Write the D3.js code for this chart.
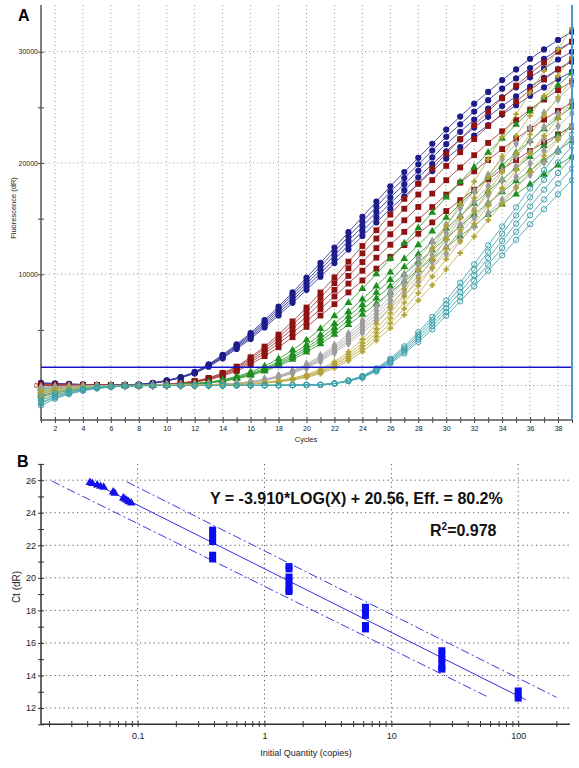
<!DOCTYPE html>
<html><head><meta charset="utf-8">
<script src="https://cdn.jsdelivr.net/npm/d3@7"></script>
<style>body{margin:0;background:#fff}svg{display:block}text{font-family:"Liberation Sans",Arial,sans-serif}</style>
</head><body><svg id="c" width="579" height="768"></svg>
<script>
// ---------- Panel A data ----------
const cycles = [1,2,3,4,5,6,7,8,9,10,11,12,13,14,15,16,17,18,19,20,21,22,23,24,25,26,27,28,29,30,31,32,33,34,35,36,37,38,39];
const aYTicks = [0,10000,20000,30000];
const aYMinor = [0,5000,10000,15000,20000,25000,30000];
const aXTicks = [2,4,6,8,10,12,14,16,18,20,22,24,26,28,30,32,34,36,38];
const threshold = 1635;

const navyCurves = [
 [150,120,90,60,40,30,30,70,190,400,680,1080,1690,2440,3290,4180,5220,6300,7430,8600,9780,11000,12220,13440,14660,15890,17010,18140,19270,20400,21430,22470,23410,24350,25190,26040,26790,27540,28200],
 [60,50,40,30,20,20,30,70,190,420,700,1120,1750,2520,3400,4320,5380,6500,7660,8880,10090,11350,12610,13870,15130,16390,17560,18720,19890,21050,22120,23180,24150,25120,26000,26870,27650,28420,29100],
 [100,80,60,40,30,30,40,80,200,430,720,1150,1800,2600,3500,4450,5550,6700,7900,9150,10400,11700,13000,14300,15600,16900,18100,19300,20500,21700,22800,23900,24900,25900,26800,27700,28500,29300,30000],
 [200,160,120,80,50,40,50,90,220,440,740,1190,1850,2680,3610,4580,5720,6900,8140,9420,10710,12050,13390,14730,16070,17410,18640,19880,21120,22350,23480,24620,25650,26680,27600,28530,29360,30180,30900],
 [250,200,150,100,60,50,60,110,240,460,760,1220,1910,2760,3710,4720,5880,7100,8370,9700,11020,12400,13780,15160,16540,17910,19190,20460,21730,23000,24170,25330,26390,27450,28410,29360,30210,31060,31800]
];
const redCurves = [
 [30,20,10,0,0,0,10,20,40,85,170,300,510,850,1280,1910,2640,3440,4340,5270,6290,7310,8370,9440,10500,11560,12620,13640,14660,15680,16660,17600,18530,19420,20270,21080,21850,22570,23250],
 [80,60,50,40,30,30,30,40,60,90,190,330,560,930,1400,2090,2880,3770,4740,5770,6880,8000,9160,10320,11490,12650,13810,14930,16040,17160,18230,19250,20270,21250,22180,23060,23900,24690,25440],
 [50,40,30,20,20,20,20,30,50,100,200,350,600,1000,1500,2250,3100,4050,5100,6200,7400,8600,9850,11100,12350,13600,14850,16050,17250,18450,19600,20700,21800,22850,23850,24800,25700,26550,27350],
 [20,10,10,0,0,10,10,20,50,110,210,370,640,1070,1610,2410,3320,4330,5460,6630,7920,9200,10540,11880,13210,14550,15890,17170,18460,19740,20970,22150,23330,24450,25520,26540,27500,28410,29260],
 [100,80,60,50,40,30,30,40,60,110,230,400,680,1130,1700,2540,3500,4580,5760,7010,8360,9720,11130,12540,13960,15370,16780,18140,19490,20850,22150,23390,24630,25820,26950,28020,29040,30000,30910]
];
const greenCurves = [
 [-900,-600,-380,-220,-110,-50,-10,0,10,35,70,130,230,380,600,900,1280,1760,2330,2990,3740,4580,5460,6380,7350,8360,9370,10380,11400,12410,13420,14390,15360,16280,17200,18080,18960,19800,20590],
 [-500,-320,-200,-110,-50,-20,0,10,20,40,80,140,240,400,640,960,1360,1880,2490,3200,4000,4890,5830,6820,7850,8930,10010,11090,12170,13250,14340,15370,16400,17390,18380,19320,20260,21150,22000],
 [-700,-450,-280,-160,-80,-30,0,10,20,40,80,150,260,430,680,1020,1450,2000,2650,3400,4250,5200,6200,7250,8350,9500,10650,11800,12950,14100,15250,16350,17450,18500,19550,20550,21550,22500,23400],
 [-300,-200,-130,-80,-40,-10,0,10,20,40,90,160,280,460,730,1090,1550,2140,2840,3640,4550,5560,6630,7760,8930,10170,11400,12630,13860,15090,16320,17490,18670,19800,20920,21990,23060,24080,25040],
 [-150,-100,-60,-30,-10,0,10,20,30,50,100,180,310,520,820,1220,1740,2400,3180,4080,5100,6240,7440,8700,10020,11400,12780,14160,15540,16920,18300,19620,20940,22200,23460,24660,25860,27000,28080]
];
const grayCurves = [
 [-600,-400,-250,-150,-80,-30,-10,0,10,20,30,50,70,100,170,290,460,710,1090,1570,2190,2950,3800,4750,5800,6940,8120,9360,10590,11830,13060,14300,15490,16670,17810,18950,20050,21090,22140],
 [-400,-260,-160,-100,-50,-20,0,0,10,20,30,50,70,100,180,300,480,750,1150,1650,2300,3100,4000,5000,6100,7300,8550,9850,11150,12450,13750,15050,16300,17550,18750,19950,21100,22200,23300],
 [-250,-160,-100,-60,-30,-10,0,10,10,20,30,50,70,110,190,320,500,790,1210,1730,2420,3260,4200,5250,6410,7670,8980,10340,11710,13070,14440,15800,17120,18430,19690,20950,22160,23310,24470],
 [-800,-520,-330,-200,-100,-40,-10,0,10,20,30,60,80,110,200,330,530,830,1270,1820,2530,3410,4400,5500,6710,8030,9410,10840,12270,13700,15130,16560,17930,19310,20630,21950,23210,24420,25630],
 [-150,-100,-60,-40,-20,0,0,10,10,20,40,60,80,120,210,350,560,870,1330,1910,2670,3600,4640,5800,7080,8470,9920,11430,12930,14440,15950,17460,18910,20360,21750,23140,24480,25750,27030]
];
const oliveCurves = [
 [-1300,-850,-530,-320,-170,-80,-30,-10,0,20,30,40,50,60,90,140,210,320,480,720,1060,1560,2210,3040,4050,5150,6350,7640,9020,10440,11910,13390,14860,16330,17800,19230,20650,22080,23460],
 [-1000,-650,-400,-240,-130,-60,-20,0,10,20,30,40,50,70,100,150,230,350,520,780,1150,1700,2400,3300,4400,5600,6900,8300,9800,11350,12950,14550,16150,17750,19350,20900,22450,24000,25500],
 [-700,-460,-290,-170,-90,-40,-10,0,10,20,30,40,50,80,110,160,250,380,560,840,1240,1840,2590,3560,4750,6050,7450,8960,10580,12260,13990,15710,17440,19170,20900,22570,24250,25920,27540],
 [-1100,-720,-450,-270,-140,-60,-20,0,10,20,30,50,60,80,120,170,270,410,600,900,1330,1970,2780,3830,5100,6500,8000,9630,11370,13170,15020,16880,18730,20590,22450,24240,26040,27840,29580],
 [-500,-330,-200,-120,-60,-20,0,10,20,30,40,50,60,90,130,190,290,440,660,980,1450,2140,3020,4160,5540,7060,8690,10460,12350,14300,16320,18330,20350,22370,24380,26330,28290,30240,32130]
];
const tealCurves = [
 [-1800,-1200,-780,-480,-270,-130,-60,-20,-10,0,0,0,0,0,10,10,20,20,30,40,50,160,380,700,1260,1980,2880,3920,5040,6260,7560,8910,10310,11700,13100,14490,15840,17190,18450],
 [-1300,-870,-560,-350,-190,-90,-40,-10,0,0,0,0,0,0,10,10,20,20,30,50,60,170,400,740,1330,2090,3040,4130,5320,6600,7980,9410,10880,12350,13820,15300,16720,18150,19480],
 [-1500,-1000,-650,-400,-220,-110,-50,-10,0,0,0,0,0,0,10,10,20,20,30,50,60,180,420,780,1400,2200,3200,4350,5600,6950,8400,9900,11450,13000,14550,16100,17600,19100,20500],
 [-1000,-680,-440,-270,-150,-70,-30,-10,0,0,0,0,0,0,10,10,20,20,30,50,60,190,440,820,1470,2310,3360,4570,5880,7300,8820,10400,12020,13650,15280,16910,18480,20060,21530],
 [-1600,-1080,-700,-430,-240,-120,-50,-10,0,0,0,0,0,10,10,20,20,30,40,60,80,200,460,860,1540,2420,3520,4790,6160,7650,9240,10890,12600,14300,16010,17710,19360,21010,22550]
];

// ---------- Panel B data ----------
const bYTicks = [12,14,16,18,20,22,24,26];
const bYMinor = [11,12,13,14,15,16,17,18,19,20,21,22,23,24,25,26,27];
const bXTicks = [0.1,1,10,100];
const bXMinor = [0.02,0.03,0.04,0.05,0.06,0.07,0.08,0.09,0.1,0.2,0.3,0.4,0.5,0.6,0.7,0.8,0.9,1,2,3,4,5,6,7,8,9,10,20,30,40,50,60,70,80,90,100,200];
const stdQty = [0.39,1.56,6.25,25,100];
const stdCt = [
 [22.96,22.7,22.45,22.2,21.42,21.13],
 [20.72,20.52,20.08,19.8,19.52,19.25,19.13],
 [18.22,17.95,17.66,17.1,16.83],
 [15.55,15.3,15.02,14.74,14.46,14.36],
 [13.08,12.8,12.58]
];
const unkQty = [0.042,0.044,0.048,0.051,0.054,0.064,0.066,0.077,0.079,0.082,0.085,0.089];
const unkCt  = [25.86,25.8,25.71,25.62,25.56,25.27,25.2,24.9,24.84,24.76,24.68,24.6];
const fitX = [0.042,115], fitY = [25.94,12.50];
const upperX = [0.082,200], upperY = [25.9,12.66];
const lowerX = [0.021,58], lowerY = [25.95,12.67];

// ---------- drawing ----------
const svg = d3.select("#c");
svg.append("rect").attr("width",579).attr("height",768).attr("fill","#fff");

/* ===== Panel A ===== */
const ax = d3.scaleLinear().domain([1,39]).range([41,572]);
const ay = d3.scaleLinear().domain([-3100,34200]).range([420,5]);
const A = svg.append("g");
A.append("text").attr("x",18).attr("y",21).attr("font-size",16).attr("font-weight","bold").text("A");

const gridA = A.append("g").attr("stroke","#9a9a9a").attr("stroke-width",1).attr("stroke-dasharray","1,3");
gridA.selectAll("line.v").data(aXTicks).join("line").attr("class","v")
  .attr("x1",d=>ax(d)).attr("x2",d=>ax(d)).attr("y1",5).attr("y2",420);
gridA.selectAll("line.h").data(aYTicks).join("line").attr("class","h")
  .attr("x1",41).attr("x2",572).attr("y1",d=>ay(d)).attr("y2",d=>ay(d));

// axes ticks
A.append("g").attr("transform","translate(44,0)")
  .call(d3.axisLeft(ay).tickValues(aYMinor).tickSize(6).tickFormat(""))
  .call(g=>{g.select(".domain").remove();g.selectAll("line").attr("stroke","#444");});
A.append("g").attr("transform","translate(41,0)")
  .call(d3.axisLeft(ay).tickValues(aYTicks).tickSize(0).tickPadding(3).tickFormat(d3.format("d")))
  .call(g=>{g.select(".domain").remove();g.selectAll("text").attr("font-size",7).attr("fill","#222").attr("font-family","Liberation Sans, Arial");});
A.append("g").attr("transform","translate(0,417)")
  .call(d3.axisBottom(ax).tickValues(cycles).tickSize(6).tickFormat(""))
  .call(g=>{g.select(".domain").remove();g.selectAll("line").attr("stroke","#444");});
A.append("g").attr("transform","translate(0,420)")
  .call(d3.axisBottom(ax).tickValues(aXTicks).tickSize(0).tickPadding(6).tickFormat(d3.format("d")))
  .call(g=>{g.select(".domain").remove();g.selectAll("text").attr("font-size",7).attr("fill","#222").attr("font-family","Liberation Sans, Arial");});
A.append("line").attr("x1",41).attr("x2",41).attr("y1",5).attr("y2",421).attr("stroke","#555").attr("stroke-width",1.5);
A.append("line").attr("x1",41).attr("x2",572).attr("y1",420).attr("y2",420).attr("stroke","#555").attr("stroke-width",1.5);
A.append("text").attr("x",306).attr("y",442).attr("font-size",7.5).attr("text-anchor","middle").attr("fill","#222").text("Cycles");
A.append("text").attr("transform","translate(16,208) rotate(-90)").attr("font-size",7.5).attr("text-anchor","middle").attr("fill","#222").text("Fluorescence (dR)");

svg.append("clipPath").attr("id","clipA").append("rect").attr("x",37).attr("y",3).attr("width",537).attr("height",419);
const plotA = A.append("g").attr("clip-path","url(#clipA)");
const line = d3.line().x((d,i)=>ax(cycles[i])).y(d=>ay(d));

const groups = [
  {data:navyCurves, line:"#3a3aa0", fill:"#1c1c8a", stroke:"none", sym:d3.symbolCircle, size:30},
  {data:redCurves, line:"#a84444", fill:"#8e1212", stroke:"none", sym:d3.symbolSquare, size:34},
  {data:greenCurves, line:"#3e9e3e", fill:"#1e8e1e", stroke:"none", sym:d3.symbolTriangle, size:26},
  {data:grayCurves, line:"#b0b0b0", fill:"#9c9c9c", stroke:"none", sym:d3.symbolDiamond, size:28},
  {data:oliveCurves, line:"#c2b455", fill:"#b0a238", stroke:"none", sym:d3.symbolCross, size:18},
  {data:tealCurves, line:"#4aa8b0", fill:"none", stroke:"#3a9ea8", sym:d3.symbolCircle, size:22}
];
groups.forEach(gr=>{
  gr.data.forEach(curve=>{
    plotA.append("path").datum(curve).attr("d",line).attr("fill","none").attr("stroke",gr.line).attr("stroke-width",0.9);
    plotA.append("g").selectAll("path").data(curve).join("path")
      .attr("transform",(d,i)=>`translate(${ax(cycles[i])},${ay(d)})`)
      .attr("d",d3.symbol().type(gr.sym).size(gr.size))
      .attr("fill",gr.fill).attr("stroke",gr.stroke).attr("stroke-width",1);
  });
});
// threshold & cursor line
A.append("line").attr("x1",41).attr("x2",572).attr("y1",ay(threshold)).attr("y2",ay(threshold)).attr("stroke","#1414c8").attr("stroke-width",1.5);
A.append("line").attr("x1",572).attr("x2",572).attr("y1",5).attr("y2",420).attr("stroke","#4a9ad6").attr("stroke-width",2);

/* ===== Panel B ===== */
const bx = d3.scaleLog().domain([0.0173,256]).range([41,570]);
const by = d3.scaleLinear().domain([11,27]).range([724.3,463.9]);
const B = svg.append("g");
B.append("text").attr("x",17).attr("y",467).attr("font-size",16).attr("font-weight","bold").text("B");
const gridB = B.append("g").attr("stroke","#555").attr("stroke-width",1).attr("stroke-dasharray","1.2,3.3");
gridB.selectAll("line.v").data(bXTicks).join("line").attr("class","v")
  .attr("x1",d=>bx(d)).attr("x2",d=>bx(d)).attr("y1",464).attr("y2",724);
gridB.selectAll("line.h").data(bYTicks).join("line").attr("class","h")
  .attr("x1",41).attr("x2",570).attr("y1",d=>by(d)).attr("y2",d=>by(d));

B.append("g").attr("transform","translate(44,0)")
  .call(d3.axisLeft(by).tickValues(bYMinor).tickSize(6).tickFormat(""))
  .call(g=>{g.select(".domain").remove();g.selectAll("line").attr("stroke","#333");});
B.append("g").attr("transform","translate(38,0)")
  .call(d3.axisLeft(by).tickValues(bYTicks).tickSize(0).tickPadding(2).tickFormat(d3.format("d")))
  .call(g=>{g.select(".domain").remove();g.selectAll("text").attr("font-size",9).attr("fill","#222").attr("font-family","Liberation Sans, Arial");});
B.append("g").attr("transform","translate(0,721)")
  .call(d3.axisBottom(bx).tickValues(bXMinor).tickSize(6).tickFormat(""))
  .call(g=>{g.select(".domain").remove();g.selectAll("line").attr("stroke","#333");});
B.append("g").attr("transform","translate(0,724)")
  .call(d3.axisBottom(bx).tickValues(bXTicks).tickSize(0).tickPadding(9).tickFormat(d=>String(d)))
  .call(g=>{g.select(".domain").remove();g.selectAll("text").attr("font-size",9).attr("fill","#222").attr("font-family","Liberation Sans, Arial");});
B.append("line").attr("x1",41).attr("x2",41).attr("y1",464).attr("y2",725).attr("stroke","#333").attr("stroke-width",1.5);
B.append("line").attr("x1",41).attr("x2",570).attr("y1",724.3).attr("y2",724.3).attr("stroke","#333").attr("stroke-width",1.5);
B.append("text").attr("x",306).attr("y",756).attr("font-size",9).attr("text-anchor","middle").attr("fill","#222").text("Initial Quantity (copies)");
B.append("text").attr("transform","translate(20,587) rotate(-90)").attr("font-size",10).attr("text-anchor","middle").attr("fill","#222").text("Ct (dR)");

const lineB = d3.line().x(d=>bx(d[0])).y(d=>by(d[1]));
const dashStyle = "9,3,2,3";
B.append("path").datum(d3.zip(upperX,upperY)).attr("d",lineB).attr("fill","none").attr("stroke","#3b3be0").attr("stroke-width",1).attr("stroke-dasharray",dashStyle);
B.append("path").datum(d3.zip(lowerX,lowerY)).attr("d",lineB).attr("fill","none").attr("stroke","#3b3be0").attr("stroke-width",1).attr("stroke-dasharray",dashStyle);
B.append("path").datum(d3.zip(fitX,fitY)).attr("d",lineB).attr("fill","none").attr("stroke","#3232e0").attr("stroke-width",1);

stdQty.forEach((q,i)=>{
  B.append("g").selectAll("rect").data(stdCt[i]).join("rect")
    .attr("x",bx(q)-3.5).attr("y",d=>by(d)-3).attr("width",7).attr("height",6).attr("fill","#0c0cf0");
});
B.append("g").selectAll("path").data(d3.zip(unkQty,unkCt)).join("path")
  .attr("transform",d=>`translate(${bx(d[0])},${by(d[1])})`)
  .attr("d",d3.symbol().type(d3.symbolTriangle).size(32)).attr("fill","#1212e8");

B.append("text").attr("x",210).attr("y",503.5).attr("font-size",16).attr("font-weight","bold").attr("fill","#111")
  .text("Y = -3.910*LOG(X) + 20.56, Eff. = 80.2%");
const r2 = B.append("text").attr("x",430).attr("y",535.5).attr("font-size",16).attr("font-weight","bold").attr("fill","#111");
r2.append("tspan").text("R");
r2.append("tspan").attr("font-size",10).attr("dy",-6).text("2");
r2.append("tspan").attr("dy",6).text("=0.978");
</script></body></html>
